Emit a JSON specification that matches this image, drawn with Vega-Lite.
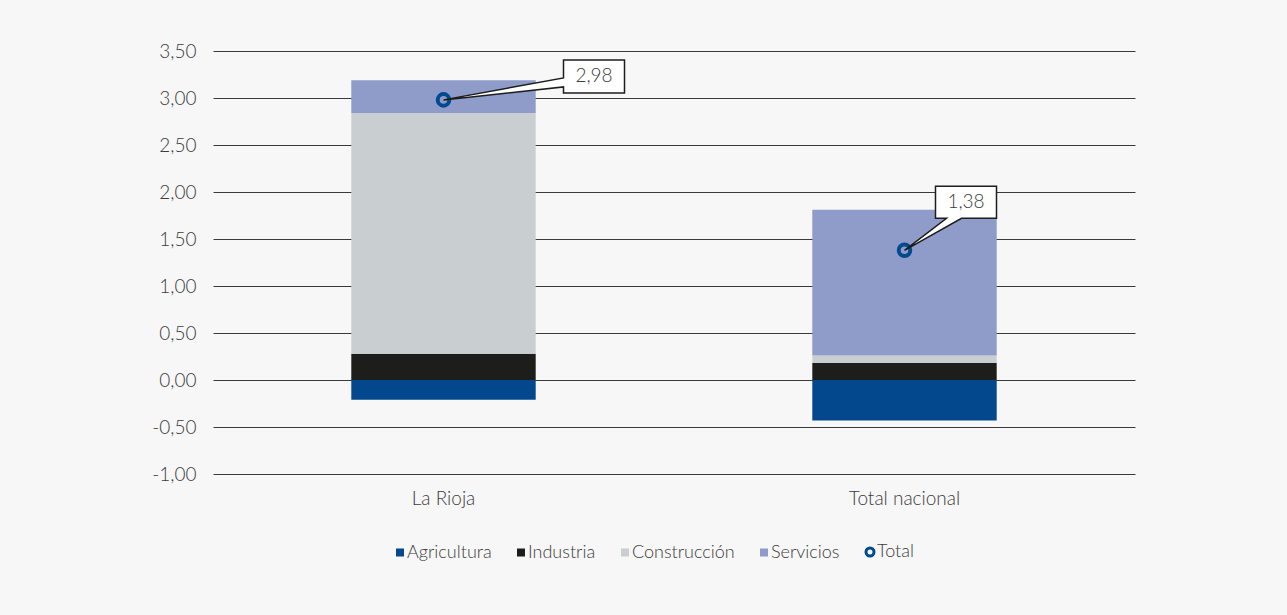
{
  "$schema": "https://vega.github.io/schema/vega-lite/v6.json",
  "autosize": {"type": "none"},
  "width": 922,
  "height": 423,
  "padding": {"left": 213, "top": 51, "right": 152, "bottom": 141},
  "background": "#f7f7f7",
  "config": {
    "view": {"stroke": null},
    "font": "Lato",
    "locale": {"number": {"decimal": ",", "thousands": ".", "grouping": [3], "currency": ["", " €"], "minus": "-"}},
    "axis": {"labelFont": "Lato", "labelFontSize": 19, "labelColor": "#3c3c3c", "labelFontWeight": 300}
  },
  "datasets": {
    "sectores": [
      {"Region": "La Rioja", "Sector": "Agricultura", "orden": 1, "valor": -0.21},
      {"Region": "La Rioja", "Sector": "Industria", "orden": 2, "valor": 0.28},
      {"Region": "La Rioja", "Sector": "Construcción", "orden": 3, "valor": 2.56},
      {"Region": "La Rioja", "Sector": "Servicios", "orden": 4, "valor": 0.35},
      {"Region": "Total nacional", "Sector": "Agricultura", "orden": 1, "valor": -0.43},
      {"Region": "Total nacional", "Sector": "Industria", "orden": 2, "valor": 0.18},
      {"Region": "Total nacional", "Sector": "Construcción", "orden": 3, "valor": 0.08},
      {"Region": "Total nacional", "Sector": "Servicios", "orden": 4, "valor": 1.55}
    ],
    "total": [
      {"Region": "La Rioja", "Total": 2.98},
      {"Region": "Total nacional", "Total": 1.38}
    ]
  },
  "encoding": {
    "x": {
      "field": "Region", "type": "nominal", "title": null,
      "sort": ["La Rioja", "Total nacional"],
      "scale": {"paddingInner": 0.6, "paddingOuter": 0.3},
      "axis": {"labelAngle": 0, "domain": false, "ticks": false, "labelPadding": 15}
    }
  },
  "layer": [
    {
      "data": {"name": "sectores"},
      "mark": {"type": "bar"},
      "encoding": {
        "y": {
          "field": "valor", "type": "quantitative", "stack": "zero", "title": null,
          "scale": {"domain": [-1, 3.5], "nice": false, "zero": false},
          "axis": {
            "values": [-1, -0.5, 0, 0.5, 1, 1.5, 2, 2.5, 3, 3.5],
            "format": ".2f", "domain": false, "ticks": false, "labelPadding": 17,
            "grid": true, "gridColor": "#3a3a3a", "gridWidth": 1, "gridOpacity": 1
          }
        },
        "order": {"field": "orden", "type": "quantitative", "sort": "ascending"},
        "color": {
          "field": "Sector", "type": "nominal",
          "scale": {
            "domain": ["Agricultura", "Industria", "Construcción", "Servicios", "Total"],
            "range": ["#03478c", "#1d1d1b", "#c9ced1", "#8f9bc8", "#004a8f"]
          },
          "legend": {
            "title": null, "orient": "none", "direction": "horizontal",
            "legendX": 178, "legendY": 492, "padding": 0,
            "labelFont": "Lato", "labelFontSize": 18, "labelFontWeight": 300, "labelColor": "#3c3c3c",
            "labelOffset": -2, "columnPadding": 20, "symbolSize": 64,
            "encode": {
              "symbols": {
                "update": {
                  "shape": {"signal": "datum.value === 'Total' ? 'circle' : 'square'"},
                  "fillOpacity": {"signal": "datum.value === 'Total' ? 0 : 1"},
                  "stroke": {"signal": "datum.value === 'Total' ? '#004a8f' : 'transparent'"},
                  "strokeWidth": {"signal": "datum.value === 'Total' ? 3 : 0"},
                  "opacity": {"value": 1}
                }
              }
            }
          }
        }
      }
    },
    {
      "data": {"name": "total"},
      "mark": {"type": "point", "filled": false, "strokeWidth": 4, "size": 133, "opacity": 1, "shape": "circle"},
      "encoding": {
        "y": {"field": "Total", "type": "quantitative"},
        "color": {"datum": "Total"}
      }
    },
    {
      "data": {"name": "total"},
      "mark": {"type": "point", "filled": true, "fill": "#ffffff", "stroke": "#1d1d1b", "strokeWidth": 1.5, "size": 4, "opacity": 1},
      "encoding": {
        "y": {"field": "Total", "type": "quantitative"},
        "shape": {
          "field": "Region", "type": "nominal", "legend": null,
          "scale": {
            "domain": ["La Rioja", "Total nacional"],
            "range": [
              "M0,0 L120,-22 L120,-40 L181,-40 L181,-7 L120,-7 L120,-13 Z",
              "M0,0 L42,-32 L31,-32 L31,-64 L92,-64 L92,-32 L57,-32 Z"
            ]
          }
        }
      }
    },
    {
      "data": {"name": "total"},
      "transform": [{"filter": "datum.Region === 'La Rioja'"}],
      "mark": {"type": "text", "dx": 150.5, "dy": -23.5, "align": "center", "baseline": "middle", "font": "Lato", "fontSize": 19, "fontWeight": 300, "color": "#3c3c3c"},
      "encoding": {
        "y": {"field": "Total", "type": "quantitative"},
        "text": {"field": "Total", "type": "quantitative", "format": ".2f"}
      }
    },
    {
      "data": {"name": "total"},
      "transform": [{"filter": "datum.Region === 'Total nacional'"}],
      "mark": {"type": "text", "dx": 61.5, "dy": -48, "align": "center", "baseline": "middle", "font": "Lato", "fontSize": 19, "fontWeight": 300, "color": "#3c3c3c"},
      "encoding": {
        "y": {"field": "Total", "type": "quantitative"},
        "text": {"field": "Total", "type": "quantitative", "format": ".2f"}
      }
    }
  ]
}
